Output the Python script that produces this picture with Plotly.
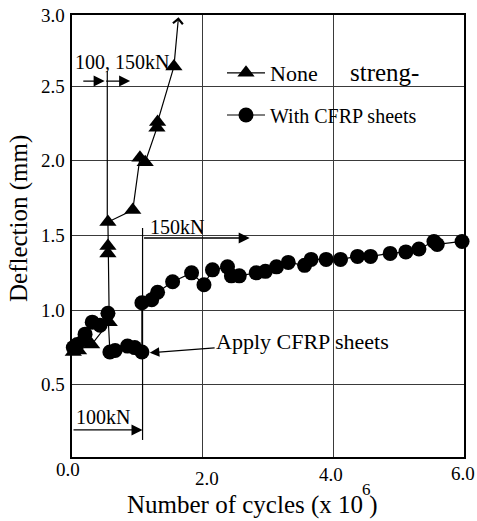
import plotly.graph_objects as go

# ---------------- data ----------------
none_x = [0.02, 0.05, 0.10, 0.17, 0.20, 0.30, 0.57, 0.55, 0.55, 0.55, 0.93, 1.04, 1.12, 1.30, 1.31, 1.56]
none_y = [0.72, 0.75, 0.73, 0.82, 0.78, 0.77, 0.92, 1.38, 1.43, 1.59, 1.67, 2.02, 1.99, 2.22, 2.26, 2.63]

cfrp_x = [0.02, 0.08, 0.20, 0.31, 0.43, 0.55, 0.58, 0.66, 0.85, 0.96, 1.07, 1.07, 1.22, 1.31, 1.54,
          1.83, 2.02, 2.15, 2.38, 2.44, 2.56, 2.82, 2.96, 3.13, 3.31, 3.56, 3.66, 3.89, 4.11, 4.37,
          4.57, 4.87, 5.11, 5.31, 5.54, 5.59, 5.97]
cfrp_y = [0.75, 0.77, 0.84, 0.92, 0.90, 0.98, 0.72, 0.73, 0.76, 0.75, 0.72, 1.05, 1.07, 1.12, 1.19,
          1.25, 1.17, 1.27, 1.29, 1.23, 1.23, 1.25, 1.26, 1.29, 1.32, 1.30, 1.34, 1.34, 1.34, 1.36,
          1.36, 1.38, 1.39, 1.41, 1.46, 1.44, 1.46]

series_names = ["None", "With CFRP sheets"]
XTICK_LABELS = ["0.0", "2.0", "4.0", "6.0"]
YTICK_LABELS = ["0.5", "1.0", "1.5", "2.0", "2.5", "3.0"]
X_TITLE = "Number of cycles (x 10&nbsp;)"
X_TITLE_EXP = "6"
Y_TITLE = "Deflection (mm)"
X_RANGE = [0, 6]
Y_RANGE = [0.018, 2.975]

FONT = "Liberation Serif"

PLOT_L, PLOT_R, PLOT_T, PLOT_B = 72, 464, 15, 457

fig = go.Figure()

fig.add_trace(go.Scatter(
    x=none_x, y=none_y, mode="lines+markers", name=series_names[0],
    line=dict(color="black", width=1.2),
    marker=dict(symbol="triangle-up", size=15, color="black"),
    legend="legend", cliponaxis=False))

fig.add_trace(go.Scatter(
    x=cfrp_x, y=cfrp_y, mode="lines+markers", name=series_names[1],
    line=dict(color="black", width=1.2),
    marker=dict(symbol="circle", size=15, color="black"),
    legend="legend2", cliponaxis=False))

annotations = []

# tick labels
x_shift = [-4, 4, -2, -1]
y_shift = [-12, -21, -17, -16]
for lab, dx, dy in zip(XTICK_LABELS, x_shift, y_shift):
    annotations.append(dict(x=float(lab), y=0, xref="x", yref="paper", text=lab, showarrow=False,
                            xanchor="center", yanchor="middle", xshift=dx, yshift=dy,
                            font=dict(size=19, family=FONT, color="black")))
for lab in YTICK_LABELS:
    yv = min(float(lab), Y_RANGE[1])
    annotations.append(dict(x=0, y=yv, xref="paper", yref="y", text=lab, showarrow=False,
                            xanchor="right", yanchor="middle", xshift=-5,
                            font=dict(size=19, family=FONT, color="black")))

# axis titles
annotations.append(dict(x=2.76, y=0, xref="x", yref="paper", text=X_TITLE, showarrow=False,
                        xanchor="center", yanchor="middle", yshift=-48,
                        font=dict(size=25, family=FONT, color="black")))
annotations.append(dict(x=(366 - PLOT_L) / (PLOT_R - PLOT_L), y=0, xref="paper", yref="paper",
                        text=X_TITLE_EXP, showarrow=False, xanchor="center", yanchor="middle",
                        yshift=-(489 - PLOT_B), font=dict(size=17, family=FONT, color="black")))
annotations.append(dict(x=0, y=0.5, xref="paper", yref="paper", text=Y_TITLE, showarrow=False,
                        textangle=-90, xanchor="center", yanchor="middle", xshift=-53, yshift=17,
                        font=dict(size=25, family=FONT, color="black")))

# load-level labels
kn_font = dict(size=20, family=FONT, color="black")
annotations.append(dict(x=0.765, y=2.66, xref="x", yref="y", text="100, 150kN", showarrow=False, font=kn_font))
annotations.append(dict(x=1.60, y=1.56, xref="x", yref="y", text="150kN", showarrow=False, font=kn_font))
annotations.append(dict(x=0.475, y=0.286, xref="x", yref="y", text="100kN", showarrow=False, font=kn_font))

# horizontal load arrows (head at x,y ; tail at ax,ay)
arrow_defs = [
    (0.50, 2.533, 0.15, 2.533),
    (0.89, 2.533, 0.50, 2.533),
    (2.72, 1.483, 1.08, 1.483),
    (1.08, 0.199, 0.00, 0.199),
]
for hx, hy, tx, ty in arrow_defs:
    annotations.append(dict(x=hx, y=hy, ax=tx, ay=ty, xref="x", yref="y", axref="x", ayref="y",
                            text="", showarrow=True, arrowhead=2, arrowsize=1.7, arrowwidth=1.3,
                            arrowcolor="black", standoff=0, startstandoff=0))

# "Apply CFRP sheets" callout
annotations.append(dict(x=1.19, y=0.715, ax=3.53, ay=0.794, xref="x", yref="y", axref="x", ayref="y",
                        text="Apply CFRP sheets", showarrow=True, arrowhead=2, arrowsize=1.6,
                        arrowwidth=1.2, arrowcolor="black", standoff=0,
                        font=dict(size=22, family=FONT, color="black")))

# open arrow at end of unstrengthened curve
annotations.append(dict(x=1.63, y=2.96, ax=1.56, ay=2.63, xref="x", yref="y", axref="x", ayref="y",
                        text="", showarrow=True, arrowhead=4, arrowsize=1.6, arrowwidth=1.2,
                        arrowcolor="black", standoff=0, startstandoff=0))

# second word of the first legend entry
annotations.append(dict(x=(348 - PLOT_L) / (PLOT_R - PLOT_L), y=(PLOT_B - 72) / (PLOT_B - PLOT_T),
                        xref="paper", yref="paper", text="streng-", showarrow=False,
                        xanchor="left", yanchor="middle",
                        font=dict(size=25, family=FONT, color="black")))

shapes = [
    dict(type="line", xref="x", yref="y", x0=0.54, x1=0.54, y0=2.60, y1=1.59,
         line=dict(color="black", width=1.2)),
    dict(type="line", xref="x", yref="y", x0=1.08, x1=1.08, y0=1.55, y1=0.132,
         line=dict(color="black", width=1.2)),
]

axis_common = dict(showticklabels=False, ticks="", showgrid=True, gridcolor="#3a3a3a", gridwidth=1,
                   showline=True, linecolor="black", linewidth=2, mirror=True, zeroline=False)

fig.update_layout(
    width=477, height=521,
    margin=dict(l=PLOT_L, r=477 - PLOT_R, t=PLOT_T, b=521 - PLOT_B),
    plot_bgcolor="white", paper_bgcolor="white",
    font=dict(family=FONT, color="black"),
    xaxis=dict(range=X_RANGE, tickvals=[0, 2, 4, 6], **axis_common),
    yaxis=dict(range=Y_RANGE, tickvals=[0.5, 1.0, 1.5, 2.0, 2.5], **axis_common),
    legend=dict(x=(222 - PLOT_L) / (PLOT_R - PLOT_L), y=(PLOT_B - 73) / (PLOT_B - PLOT_T),
                xanchor="left", yanchor="middle", bgcolor="rgba(0,0,0,0)", borderwidth=0,
                itemwidth=38, font=dict(size=22, family=FONT, color="black")),
    legend2=dict(x=(222 - PLOT_L) / (PLOT_R - PLOT_L), y=(PLOT_B - 115) / (PLOT_B - PLOT_T),
                 xanchor="left", yanchor="middle", bgcolor="rgba(0,0,0,0)", borderwidth=0,
                 itemwidth=38, font=dict(size=20, family=FONT, color="black")),
    annotations=annotations,
    shapes=shapes,
    showlegend=True,
)

fig.write_html("out.html", config={"displayModeBar": False},
               post_script="document.body.style.margin='0px';document.body.style.padding='0px';")
